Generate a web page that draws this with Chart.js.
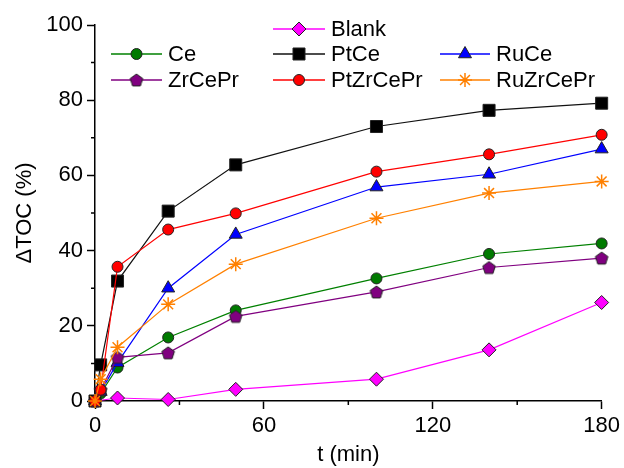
<!DOCTYPE html>
<html>
<head>
<meta charset="utf-8">
<script src="https://cdn.jsdelivr.net/npm/chart.js@4"></script>
<style>
  html, body { margin: 0; padding: 0; background: #fff; }
  #wrap { width: 624px; height: 468px; }
</style>
</head>
<body>
<div id="wrap"><canvas id="tocChart" width="624" height="468"></canvas></div>
<script>
const times = [0, 2, 8, 26, 50, 100, 140, 180];
const blank = [0, null, 0.8, 0.4, 3.1, 5.8, 13.6, 26.2];
const ce = [0, 2, 8.9, 16.9, 24.1, 32.6, 39.1, 41.9];
const ptCe = [0, 9.6, 31.9, 50.5, 62.8, 73, 77.3, 79.2];
const ruCe = [0, 2.5, 10.2, 30, 44.3, 56.9, 60.3, 67];
const zrCePr = [0, 3, 11.6, 12.8, 22.5, 29, 35.5, 38];
const ptZrCePr = [0, 3, 35.7, 45.6, 49.9, 61, 65.6, 70.8];
const ruZrCePr = [0, 5.8, 14.3, 25.7, 36.4, 48.6, 55.3, 58.4];

const xTicks = [0, 60, 120, 180];
const yTicks = [0, 20, 40, 60, 80, 100];
const xMinor = [30, 90, 150];
const yMinor = [10, 30, 50, 70, 90];

const FONT = "'Liberation Sans', Arial, sans-serif";

function pentagon(fill) {
  const c = document.createElement('canvas');
  c.width = 16; c.height = 16;
  const g = c.getContext('2d');
  g.beginPath();
  for (let i = 0; i < 5; i++) {
    const a = -Math.PI / 2 + i * 2 * Math.PI / 5;
    const px = 8 + 6.6 * Math.cos(a), py = 8.6 + 6.6 * Math.sin(a);
    i ? g.lineTo(px, py) : g.moveTo(px, py);
  }
  g.closePath();
  g.fillStyle = fill;
  g.fill();
  g.lineWidth = 1;
  g.strokeStyle = '#222';
  g.stroke();
  return c;
}

function series(label, values, color, fill, style, radius) {
  return {
    label: label,
    data: times.map((t, i) => ({ x: t, y: values[i] })),
    borderColor: color,
    backgroundColor: fill,
    borderWidth: 1.2,
    pointStyle: style,
    pointRadius: radius,
    pointHoverRadius: radius,
    pointBackgroundColor: fill,
    pointBorderColor: style === 'star' ? color : '#222',
    pointBorderWidth: style === 'star' ? 1.5 : 1,
    spanGaps: true,
    tension: 0,
    fill: false,
    clip: false
  };
}

const datasets = [
  series('Blank', blank, '#ff00ff', '#ff00ff', 'rectRot', 7),
  series('Ce', ce, '#008000', '#007a00', 'circle', 5.5),
  series('PtCe', ptCe, '#111111', '#000000', 'rect', 8.5),
  series('RuCe', ruCe, '#0000ff', '#0000ff', 'triangle', 7.5),
  series('ZrCePr', zrCePr, '#800080', '#800080', pentagon('#800080'), 7),
  series('PtZrCePr', ptZrCePr, '#ff0000', '#ff0000', 'circle', 5.5),
  series('RuZrCePr', ruZrCePr, '#ff8000', '#ff8000', 'star', 7)
];
datasets.forEach((d, i) => { d.order = datasets.length - i; });

// legend slots: [line start, line end, row y]
const legendSlots = [
  [273, 325, 29],
  [111, 162, 54], [273, 325, 54], [440, 490, 54],
  [111, 162, 80], [273, 325, 80], [440, 490, 80]
];

const extras = {
  id: 'extras',
  afterDraw(chart) {
    const ctx = chart.ctx;
    const xs = chart.scales.x, ys = chart.scales.y;
    ctx.save();
    ctx.strokeStyle = '#000';
    ctx.lineWidth = 1.5;
    ctx.beginPath();
    xMinor.forEach(v => {
      const px = xs.getPixelForValue(v);
      ctx.moveTo(px, xs.top);
      ctx.lineTo(px, xs.top + 4);
    });
    yMinor.forEach(v => {
      const py = ys.getPixelForValue(v);
      ctx.moveTo(ys.right, py);
      ctx.lineTo(ys.right - 4, py);
    });
    ctx.stroke();

    ctx.font = '22px ' + FONT;
    ctx.textBaseline = 'middle';
    ctx.textAlign = 'left';
    chart.data.datasets.forEach((d, i) => {
      const [x0, x1, y] = legendSlots[i];
      ctx.strokeStyle = d.borderColor;
      ctx.lineWidth = 1.5;
      ctx.beginPath();
      ctx.moveTo(x0, y);
      ctx.lineTo(x1, y);
      ctx.stroke();
      ctx.fillStyle = d.pointBackgroundColor;
      ctx.strokeStyle = d.pointBorderColor;
      ctx.lineWidth = d.pointBorderWidth;
      Chart.helpers.drawPoint(ctx, {
        pointStyle: d.pointStyle,
        radius: d.pointRadius,
        borderWidth: d.pointBorderWidth,
        rotation: 0
      }, (x0 + x1) / 2, y);
      ctx.fillStyle = '#000';
      ctx.fillText(d.label, x1 + 6, y + 1);
    });
    ctx.restore();
  }
};

new Chart(document.getElementById('tocChart'), {
  type: 'line',
  data: { datasets: datasets },
  plugins: [extras],
  options: {
    responsive: false,
    animation: false,
    events: [],
    layout: { padding: { top: 25, right: 21, bottom: 0, left: 0 } },
    plugins: { legend: { display: false }, tooltip: { enabled: false } },
    scales: {
      x: {
        type: 'linear',
        min: 0,
        max: 180,
        afterFit(scale) { scale.height = 67; },
        afterBuildTicks(scale) { scale.ticks = xTicks.map(v => ({ value: v })); },
        grid: { drawOnChartArea: false, tickLength: 8, tickColor: '#000', tickWidth: 1.5 },
        border: { color: '#000', width: 1.5 },
        ticks: { color: '#000', padding: 4, maxRotation: 0, font: { family: FONT, size: 22 } },
        title: { display: true, text: 't (min)', color: '#000', padding: { top: 0, bottom: 0 }, font: { family: FONT, size: 22 } }
      },
      y: {
        min: 0,
        max: 100,
        afterFit(scale) { scale.width = 95; },
        afterBuildTicks(scale) { scale.ticks = yTicks.map(v => ({ value: v })); },
        grid: { drawOnChartArea: false, tickLength: 8, tickColor: '#000', tickWidth: 1.5 },
        border: { color: '#000', width: 1.5 },
        ticks: { color: '#000', padding: 4, font: { family: FONT, size: 22 } },
        title: { display: true, text: '\u0394TOC (%)', color: '#000', padding: { top: 12, bottom: 0 }, font: { family: FONT, size: 22 } }
      }
    }
  }
});
</script>
</body>
</html>
